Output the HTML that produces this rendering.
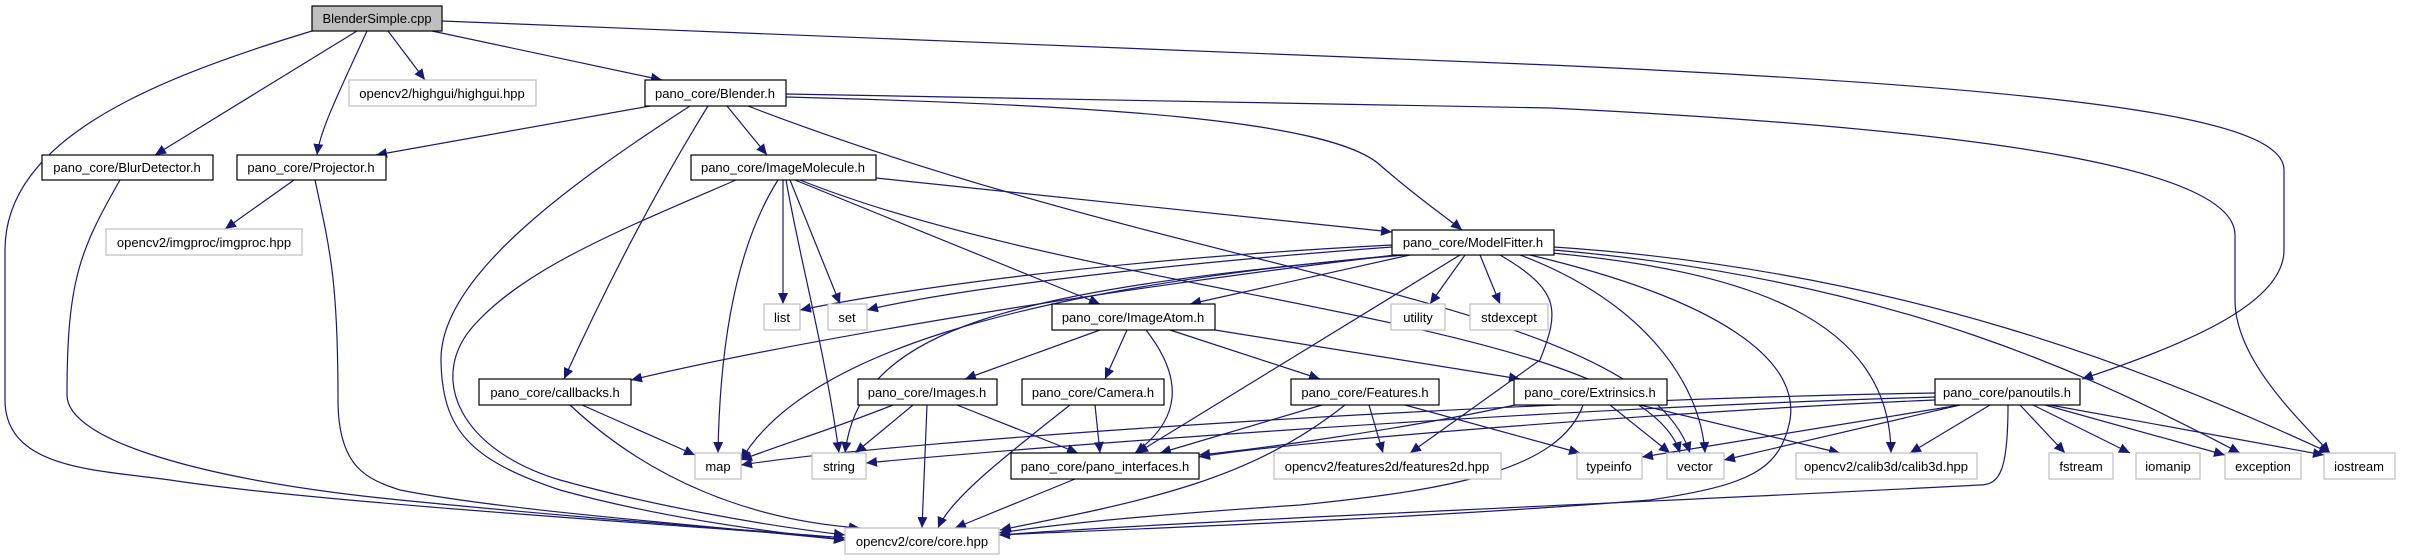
<!DOCTYPE html>
<html><head><meta charset="utf-8"><style>
html,body{margin:0;padding:0;background:#fff;}
svg{display:block;}
text{font-family:"Liberation Sans",sans-serif;font-size:13px;fill:#000;}
</style></head><body>
<svg width="2427" height="560" viewBox="0 0 2427 560" xmlns="http://www.w3.org/2000/svg">
<defs>
<marker id="a" markerUnits="userSpaceOnUse" markerWidth="12" markerHeight="10" refX="11" refY="5" orient="auto">
<path d="M0,0 L11,5 L0,10 z" fill="#191970"/>
</marker>
</defs>
<g fill="none" stroke="#191970" stroke-width="1.2" marker-end="url(#a)">
<path d="M312,31 C150,80 5,140 5,250 L5,400 C5,470 100,470 170,480 C300,500 600,520 845,538"/>
<path d="M357,31 L155,155"/>
<path d="M367,31 C340,90 320,130 317,155"/>
<path d="M388,31 L425,80"/>
<path d="M432,31 L662,80"/>
<path d="M442,21 L1550,65 C2100,90 2284,120 2284,170 L2284,250 C2284,300 2200,340 2082,379"/>
<path d="M786,94 L1550,108 C2000,130 2235,170 2235,235 L2235,300 C2235,360 2300,420 2330,453"/>
<path d="M650,106 L376,155"/>
<path d="M727,106 L767,155"/>
<path d="M708,106 C650,200 600,300 564,379"/>
<path d="M690,106 C560,190 440,280 441,360 C442,430 470,460 560,490 C650,515 750,530 845,540"/>
<path d="M748,106 C1200,280 1640,300 1690,453"/>
<path d="M786,97 C1100,105 1330,120 1380,165 C1420,200 1450,220 1462,230"/>
<path d="M120,180 C80,250 67,280 67,395 C67,440 200,480 400,500 C600,520 750,530 845,538"/>
<path d="M294,180 L225,229"/>
<path d="M315,180 C330,250 338,280 338,400 C338,470 370,480 400,490 C500,510 700,525 845,540"/>
<path d="M736,180 C620,230 520,270 470,330 C430,380 460,450 560,480 C650,505 760,525 845,535"/>
<path d="M778,180 C740,240 720,330 718,453"/>
<path d="M786,180 C800,260 825,350 839,453"/>
<path d="M783,180 L783,304"/>
<path d="M790,180 L840,304"/>
<path d="M795,180 L1100,304"/>
<path d="M876,178 L1392,232"/>
<path d="M800,180 C1100,300 1640,320 1680,453"/>
<path d="M1392,245 C1100,260 900,290 800,310"/>
<path d="M1392,247 C1150,265 950,290 867,310"/>
<path d="M1400,255 C1000,290 800,360 741,460"/>
<path d="M1405,255 C1000,290 860,330 845,453"/>
<path d="M1410,255 L1190,304"/>
<path d="M1395,255 C1100,290 800,340 631,380"/>
<path d="M1460,255 L1137,453"/>
<path d="M1465,255 L1430,304"/>
<path d="M1480,255 L1500,304"/>
<path d="M1500,255 C1560,290 1560,310 1540,360 L1410,453"/>
<path d="M1520,255 C1640,300 1700,380 1705,453"/>
<path d="M1530,255 C1720,300 1800,360 1790,420 C1780,470 1750,485 1650,500 C1400,520 1100,530 999,535"/>
<path d="M1540,252 C1750,270 1890,320 1891,453"/>
<path d="M1554,250 C1900,280 2100,380 2240,453"/>
<path d="M1554,247 C1900,270 2150,370 2330,453"/>
<path d="M1100,330 L965,379"/>
<path d="M1127,330 L1105,379"/>
<path d="M1146,330 C1185,380 1180,420 1135,453"/>
<path d="M1170,330 L1320,379"/>
<path d="M1215,330 L1520,379"/>
<path d="M582,405 L695,455"/>
<path d="M570,405 C650,480 750,520 860,528"/>
<path d="M893,405 C830,430 780,445 741,460"/>
<path d="M913,405 L855,453"/>
<path d="M927,405 L922,528"/>
<path d="M957,405 L1078,453"/>
<path d="M1095,405 L1100,453"/>
<path d="M1070,405 C1000,460 950,500 938,528"/>
<path d="M1322,405 L1160,453"/>
<path d="M1369,405 L1383,453"/>
<path d="M1405,405 L1580,453"/>
<path d="M1345,405 C1250,480 1150,500 1000,530"/>
<path d="M1515,405 C1400,430 1250,450 1199,455"/>
<path d="M1610,405 L1670,453"/>
<path d="M1640,405 L1840,453"/>
<path d="M1583,405 C1560,470 1450,490 1300,505 C1150,515 1050,525 999,533"/>
<path d="M1075,479 L955,528"/>
<path d="M1935,393 C1500,400 900,440 741,465"/>
<path d="M1935,397 C1500,410 1000,450 866,463"/>
<path d="M1935,400 C1700,410 1300,440 1199,457"/>
<path d="M1960,405 L1642,457"/>
<path d="M1960,405 L1724,460"/>
<path d="M1990,405 L1910,453"/>
<path d="M2020,405 L2065,453"/>
<path d="M2033,405 L2130,453"/>
<path d="M2045,405 L2225,455"/>
<path d="M2050,405 L2324,455"/>
<path d="M2008,405 C2008,470 2000,485 1980,485 C1700,500 1200,520 999,535"/>
</g>
<g stroke-width="1.2">
<rect x="312" y="6" width="130" height="25" fill="#bfbfbf" stroke="#000"/>
<rect x="349" y="80" width="187" height="26" fill="#fff" stroke="#bfbfbf"/>
<rect x="645" y="80" width="141" height="26" fill="#fff" stroke="#000"/>
<rect x="42" y="155" width="171" height="25" fill="#fff" stroke="#000"/>
<rect x="237" y="155" width="149" height="25" fill="#fff" stroke="#000"/>
<rect x="691" y="155" width="185" height="25" fill="#fff" stroke="#000"/>
<rect x="106" y="229" width="196" height="26" fill="#fff" stroke="#bfbfbf"/>
<rect x="1392" y="230" width="162" height="25" fill="#fff" stroke="#000"/>
<rect x="764" y="304" width="36" height="26" fill="#fff" stroke="#bfbfbf"/>
<rect x="828" y="304" width="39" height="26" fill="#fff" stroke="#bfbfbf"/>
<rect x="1052" y="304" width="163" height="26" fill="#fff" stroke="#000"/>
<rect x="1391" y="304" width="54" height="26" fill="#fff" stroke="#bfbfbf"/>
<rect x="1470" y="304" width="78" height="26" fill="#fff" stroke="#bfbfbf"/>
<rect x="479" y="379" width="152" height="26" fill="#fff" stroke="#000"/>
<rect x="858" y="379" width="139" height="26" fill="#fff" stroke="#000"/>
<rect x="1022" y="379" width="142" height="26" fill="#fff" stroke="#000"/>
<rect x="1291" y="379" width="148" height="26" fill="#fff" stroke="#000"/>
<rect x="1514" y="379" width="153" height="26" fill="#fff" stroke="#000"/>
<rect x="1935" y="379" width="145" height="26" fill="#fff" stroke="#000"/>
<rect x="695" y="453" width="46" height="26" fill="#fff" stroke="#bfbfbf"/>
<rect x="812" y="453" width="54" height="26" fill="#fff" stroke="#bfbfbf"/>
<rect x="1011" y="453" width="188" height="26" fill="#fff" stroke="#000"/>
<rect x="1274" y="453" width="227" height="26" fill="#fff" stroke="#bfbfbf"/>
<rect x="1577" y="453" width="65" height="26" fill="#fff" stroke="#bfbfbf"/>
<rect x="1667" y="453" width="57" height="26" fill="#fff" stroke="#bfbfbf"/>
<rect x="1796" y="453" width="181" height="26" fill="#fff" stroke="#bfbfbf"/>
<rect x="2049" y="453" width="64" height="26" fill="#fff" stroke="#bfbfbf"/>
<rect x="2136" y="453" width="64" height="26" fill="#fff" stroke="#bfbfbf"/>
<rect x="2225" y="453" width="76" height="26" fill="#fff" stroke="#bfbfbf"/>
<rect x="2324" y="453" width="71" height="26" fill="#fff" stroke="#bfbfbf"/>
<rect x="845" y="528" width="154" height="26" fill="#fff" stroke="#bfbfbf"/>
</g>
<g text-anchor="middle">
<text x="377" y="23">BlenderSimple.cpp</text>
<text x="442" y="98">opencv2/highgui/highgui.hpp</text>
<text x="715" y="98">pano_core/Blender.h</text>
<text x="127" y="172">pano_core/BlurDetector.h</text>
<text x="311" y="172">pano_core/Projector.h</text>
<text x="783" y="172">pano_core/ImageMolecule.h</text>
<text x="204" y="247">opencv2/imgproc/imgproc.hpp</text>
<text x="1473" y="247">pano_core/ModelFitter.h</text>
<text x="782" y="322">list</text>
<text x="847" y="322">set</text>
<text x="1133" y="322">pano_core/ImageAtom.h</text>
<text x="1418" y="322">utility</text>
<text x="1509" y="322">stdexcept</text>
<text x="555" y="397">pano_core/callbacks.h</text>
<text x="927" y="397">pano_core/Images.h</text>
<text x="1093" y="397">pano_core/Camera.h</text>
<text x="1365" y="397">pano_core/Features.h</text>
<text x="1590" y="397">pano_core/Extrinsics.h</text>
<text x="2007" y="397">pano_core/panoutils.h</text>
<text x="718" y="471">map</text>
<text x="839" y="471">string</text>
<text x="1105" y="471">pano_core/pano_interfaces.h</text>
<text x="1387" y="471">opencv2/features2d/features2d.hpp</text>
<text x="1609" y="471">typeinfo</text>
<text x="1695" y="471">vector</text>
<text x="1886" y="471">opencv2/calib3d/calib3d.hpp</text>
<text x="2081" y="471">fstream</text>
<text x="2168" y="471">iomanip</text>
<text x="2263" y="471">exception</text>
<text x="2359" y="471">iostream</text>
<text x="922" y="546">opencv2/core/core.hpp</text>
</g>
</svg>
</body></html>
